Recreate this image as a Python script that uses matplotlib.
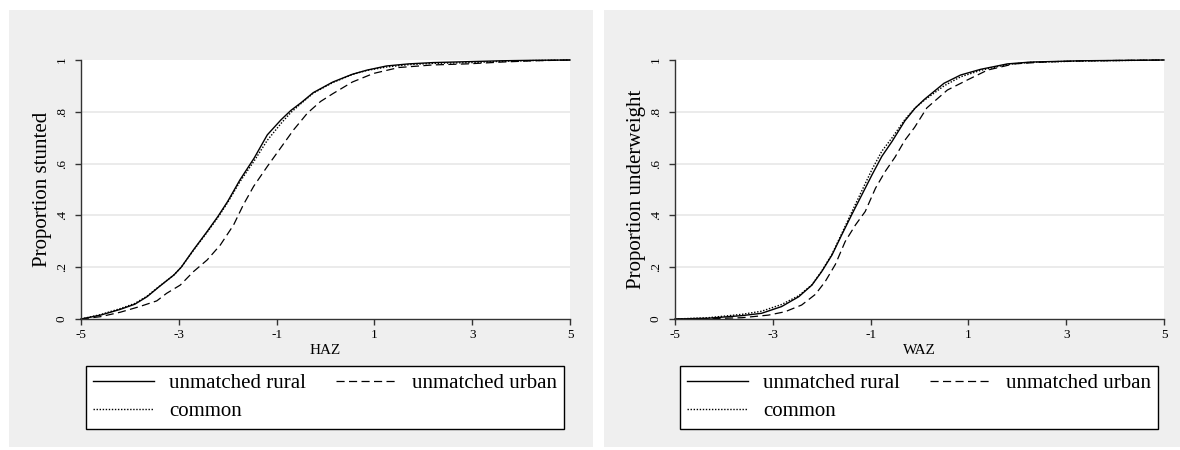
import matplotlib
matplotlib.use('Agg')
import matplotlib.pyplot as plt
from matplotlib.patches import Rectangle

plt.rcParams['font.family'] = 'Liberation Serif'

xticks = [-5, -3, -1, 1, 3, 5]
xtick_labels = ['-5', '-3', '-1', '1', '3', '5']
yticks = [0, 0.2, 0.4, 0.6, 0.8, 1]
ytick_labels = ['0', '.2', '.4', '.6', '.8', '1']
series_names = ['unmatched rural', 'unmatched urban', 'common']

# HAZ panel
haz_rural_x = [-5, -4.6, -4.2, -3.9, -3.65, -3.4, -3.1, -2.95, -2.7, -2.42, -2.2, -2.0, -1.75, -1.46,
               -1.19, -0.91, -0.71, -0.5, -0.25, 0.15, 0.55, 0.85, 1.25, 1.7, 2.2, 3.0, 3.6, 4.3, 5]
haz_rural_y = [0, 0.015, 0.037, 0.057, 0.086, 0.125, 0.17, 0.2, 0.267, 0.338, 0.396, 0.454, 0.537, 0.621,
               0.711, 0.769, 0.805, 0.835, 0.874, 0.915, 0.945, 0.961, 0.977, 0.985, 0.99, 0.994, 0.997, 0.999, 1.0]
haz_urban_x = [-5, -4.6, -4.2, -3.8, -3.45, -3.25, -2.97, -2.7, -2.42, -2.15, -1.88, -1.68, -1.47, -1.19,
               -0.92, -0.65, -0.5, -0.37, -0.1, 0.15, 0.55, 0.98, 1.5, 2.2, 2.9, 3.6, 4.25, 5]
haz_urban_y = [0, 0.009, 0.026, 0.048, 0.07, 0.099, 0.131, 0.183, 0.228, 0.286, 0.363, 0.441, 0.512, 0.589,
               0.66, 0.731, 0.765, 0.795, 0.84, 0.87, 0.915, 0.948, 0.971, 0.981, 0.985, 0.992, 0.997, 1.0]
haz_common_x = haz_rural_x
haz_common_y = [0, 0.017, 0.04, 0.06, 0.088, 0.126, 0.17, 0.2, 0.265, 0.335, 0.392, 0.45, 0.53, 0.61,
                0.69, 0.755, 0.797, 0.832, 0.872, 0.913, 0.944, 0.96, 0.973, 0.982, 0.987, 0.99, 0.995, 0.998, 1.0]

# WAZ panel
waz_rural_x = [-5, -4.32, -3.63, -3.23, -2.82, -2.47, -2.2, -2.0, -1.79, -1.59, -1.38, -1.18, -0.97,
               -0.77, -0.56, -0.3, -0.09, 0.1, 0.5, 0.84, 1.25, 1.8, 2.27, 3.3, 5]
waz_rural_y = [0, 0.003, 0.013, 0.022, 0.048, 0.086, 0.131, 0.183, 0.247, 0.325, 0.405, 0.479, 0.557,
               0.628, 0.686, 0.765, 0.814, 0.848, 0.91, 0.942, 0.964, 0.985, 0.992, 0.997, 1.0]
waz_urban_x = [-5, -4.32, -3.63, -3.09, -2.75, -2.41, -2.13, -1.93, -1.72, -1.52, -1.31, -1.11, -0.9,
               -0.7, -0.5, -0.3, -0.1, 0.15, 0.57, 0.98, 1.39, 1.93, 2.62, 3.5, 5]
waz_urban_y = [0, 0.001, 0.005, 0.015, 0.028, 0.054, 0.095, 0.144, 0.211, 0.299, 0.363, 0.415, 0.505,
               0.57, 0.625, 0.69, 0.74, 0.815, 0.884, 0.923, 0.961, 0.985, 0.993, 0.997, 1.0]
waz_common_x = waz_rural_x
waz_common_y = [0, 0.005, 0.018, 0.03, 0.056, 0.09, 0.132, 0.185, 0.25, 0.33, 0.415, 0.495, 0.578,
                0.648, 0.7, 0.77, 0.815, 0.845, 0.9, 0.935, 0.96, 0.983, 0.991, 0.996, 1.0]

W, H = 1180, 450
fig = plt.figure(figsize=(W / 100, H / 100), dpi=100)
fig.patch.set_facecolor('white')

# gray panel backgrounds (pixels: left, top, right, bottom)
for l, t, r, b in [(9, 10, 593, 447), (604, 10, 1180, 447)]:
    fig.add_artist(Rectangle((l / W, 1 - b / H), (r - l) / W, (b - t) / H,
                             transform=fig.transFigure, facecolor='#efefef', edgecolor='none', zorder=0))

panels = [
    (81, 'HAZ', 'Proportion stunted', haz_rural_x, haz_rural_y, haz_urban_x, haz_urban_y, haz_common_x, haz_common_y),
    (675, 'WAZ', 'Proportion underweight', waz_rural_x, waz_rural_y, waz_urban_x, waz_urban_y, waz_common_x, waz_common_y),
]

for left, xlab, ylab, rx, ry, ux, uy, cx, cy in panels:
    ax = fig.add_axes([left / W, 1 - 319 / H, 489 / W, 259 / H])
    ax.set_facecolor('white')
    for v in yticks[1:-1]:
        ax.axhline(v, color='#e8e8e8', lw=1.2, zorder=0)
    l1, = ax.plot(rx, ry, color='black', lw=1.0, clip_on=False)
    l2, = ax.plot(ux, uy, color='black', lw=0.9, dashes=(6.5, 3.5), clip_on=False)
    l3, = ax.plot(cx, cy, color='black', lw=1.0, dashes=(1.0, 1.2), clip_on=False)
    ax.set_xlim(-5, 5)
    ax.set_ylim(0, 1)
    ax.set_xticks(xticks)
    ax.set_xticklabels(xtick_labels, fontsize=9.5)
    ax.set_yticks(yticks)
    ax.set_yticklabels(ytick_labels, fontsize=9.5, rotation=90, va='center')
    ax.tick_params(direction='out', length=4.5, width=1, color='#333333', pad=3)
    ax.tick_params(axis='y', pad=5)
    for s in ['top', 'right']:
        ax.spines[s].set_visible(False)
    for s in ['left', 'bottom']:
        ax.spines[s].set_color('#333333')
        ax.spines[s].set_linewidth(1)
    ax.set_xlabel(xlab, fontsize=11, labelpad=2)
    ax.set_ylabel(ylab, fontsize=15, labelpad=3)

    # columns fill first: rural + common in column 1, urban in column 2
    leg = ax.legend([l1, l3, l2], [series_names[0], series_names[2], series_names[1]],
                    loc='upper left', bbox_to_anchor=((left + 5) / W, 1 - 429 / H, 478 / W, 63 / H),
                    bbox_transform=fig.transFigure, mode='expand', ncol=2, fontsize=15,
                    frameon=True, fancybox=False, framealpha=1, edgecolor='black',
                    borderaxespad=0, borderpad=0.35, handlelength=2.9, handletextpad=0.75,
                    labelspacing=0.42, columnspacing=1.3)
    leg.get_frame().set_linewidth(1)

fig.savefig('out.png', dpi=100)
